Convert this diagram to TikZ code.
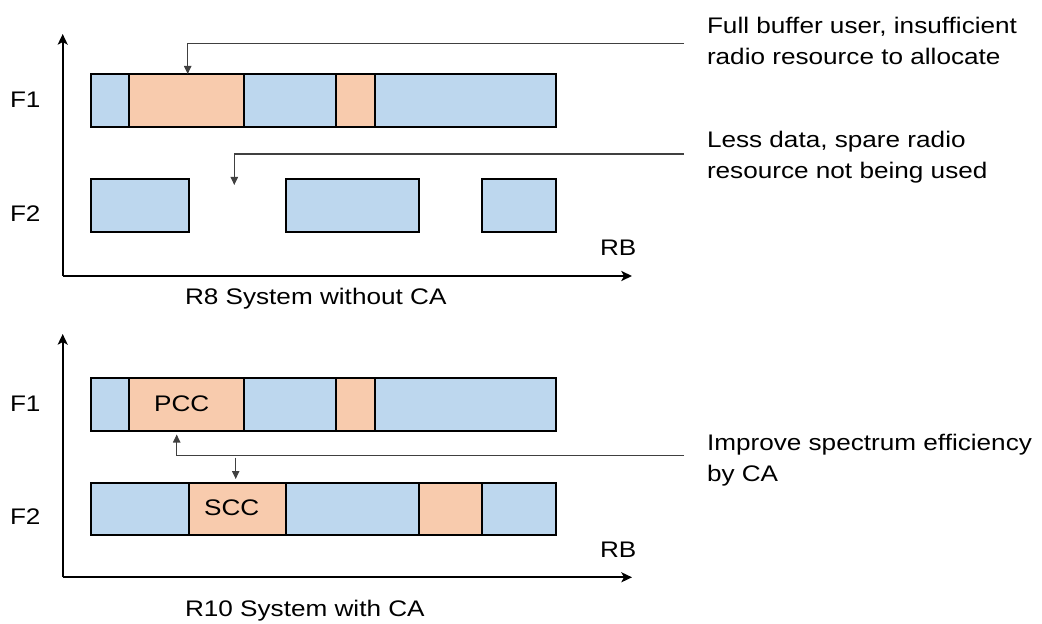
\documentclass[tikz,border=0pt]{standalone}
\usepackage{fontspec}
\setmainfont{Liberation Sans}[FakeStretch=1.16]
\usetikzlibrary{arrows.meta}
\definecolor{segblue}{HTML}{BDD7EE}
\definecolor{segorange}{HTML}{F8CBAD}
\tikzset{
  seg/.style={draw=black, line width=1.4pt, inner sep=0pt, outer sep=0pt, anchor=north west},
  blueseg/.style={seg, fill=segblue},
  orangeseg/.style={seg, fill=segorange},
  axisline/.style={line width=1.5pt, -{Stealth[length=8pt,width=7.5pt,inset=2pt]}},
  callout/.style={line width=0.8pt, draw=black!75, -{Triangle[length=6pt,width=5.5pt]}, color=black!75},
  lbl/.style={inner sep=0pt, outer sep=0pt, anchor=base west, font=\fontsize{16.9}{23.25}\selectfont},
  note/.style={inner sep=0pt, outer sep=0pt, anchor=base west, align=left, font=\fontsize{16.9}{23.25}\selectfont},
}
\newcommand{\segbox}[6]{\node[#6, minimum width={(#3-#2)*0.75pt}, minimum height={(#5-#4)*0.75pt}] (#1) at (#2,#4) {};}
\begin{document}
\begin{tikzpicture}[x=0.75pt,y=-0.75pt]
\useasboundingbox (0,0) rectangle (1042,624);
% ---------- top panel ----------
\coordinate (o1) at (62.7,276);
\coordinate (ytop1) at (62.7,34);
\coordinate (xend1) at (632,276);
\draw[axisline] (o1) -- (ytop1);
\draw[axisline] (o1) -- (xend1);
\segbox{a1}{90.7}{129.3}{74}{127.3}{blueseg}
\segbox{a2}{129.3}{244.3}{74}{127.3}{orangeseg}
\segbox{a3}{244.3}{336.3}{74}{127.3}{blueseg}
\segbox{a4}{336.3}{375}{74}{127.3}{orangeseg}
\segbox{a5}{375}{555.7}{74}{127.3}{blueseg}
\segbox{b1}{90.7}{189.3}{179.3}{231.7}{blueseg}
\segbox{b2}{286}{419}{179.3}{231.7}{blueseg}
\segbox{b3}{482.3}{555.7}{179.3}{231.7}{blueseg}
\node[lbl] (f1a) at (10,107.5) {F1};
\node[lbl] (f2a) at (10,221) {F2};
\node[lbl] (rba) at (600,255) {RB};
\node[lbl] (capa) at (185,304) {R8 System without CA};
% callouts
\node[note] (n1) at (707,64.3) {Full buffer user, insufficient\\radio resource to allocate};
\node[note] (n2) at (707,179) {Less data, spare radio\\resource not being used};
\coordinate (c1) at (684,43.3);
\coordinate (c1e) at (187.7,74);
\draw[callout] (c1) -| (c1e);
\coordinate (c2) at (684,154);
\coordinate (c2e) at (234.3,185);
\draw[callout] (c2) -| (c2e);
% ---------- bottom panel ----------
\coordinate (o2) at (62.7,577.3);
\coordinate (ytop2) at (62.7,334);
\coordinate (xend2) at (632,577.3);
\draw[axisline] (o2) -- (ytop2);
\draw[axisline] (o2) -- (xend2);
\segbox{p1}{90.7}{129.3}{377.7}{431}{blueseg}
\segbox{p2}{129.3}{244.3}{377.7}{431}{orangeseg}
\segbox{p3}{244.3}{336.3}{377.7}{431}{blueseg}
\segbox{p4}{336.3}{375}{377.7}{431}{orangeseg}
\segbox{p5}{375}{555.7}{377.7}{431}{blueseg}
\segbox{s1}{90.7}{189.3}{482.7}{535.3}{blueseg}
\segbox{s2}{189.3}{286}{482.7}{535.3}{orangeseg}
\segbox{s3}{286}{419}{482.7}{535.3}{blueseg}
\segbox{s4}{419}{482.3}{482.7}{535.3}{orangeseg}
\segbox{s5}{482.3}{555.7}{482.7}{535.3}{blueseg}
\node[font=\fontsize{16.9}{23.25}\selectfont, inner sep=0pt] (pcc) at (181.7,404) {PCC};
\node[font=\fontsize{16.9}{23.25}\selectfont, inner sep=0pt] (scc) at (231.7,508) {SCC};
\node[lbl] (f1b) at (10,411.7) {F1};
\node[lbl] (f2b) at (10,524) {F2};
\node[lbl] (rbb) at (600,557) {RB};
\node[lbl] (capb) at (185,616.7) {R10 System with CA};
\node[note] (n3) at (707,481) {Improve spectrum efficiency\\by CA};
\coordinate (c3) at (684,455.7);
\coordinate (c3e) at (176.7,434.5);
\draw[callout] (c3) -| (c3e);
\coordinate (c4) at (235.7,457.5);
\coordinate (c4e) at (235.7,479);
\draw[callout] (c4) -- (c4e);
\end{tikzpicture}
\end{document}
